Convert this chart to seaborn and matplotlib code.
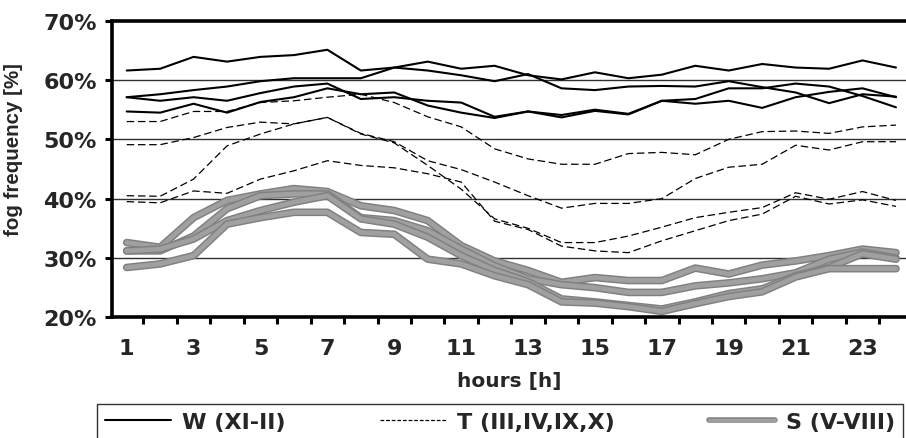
import pandas as pd
import matplotlib
matplotlib.use('Agg')
import matplotlib.pyplot as plt
import matplotlib.patheffects as pe
from matplotlib.lines import Line2D
import seaborn as sns

hours = list(range(1, 25))

# W (XI-II) - solid
w1 = [61.6, 61.9, 63.9, 63.1, 63.9, 64.2, 65.1, 61.6, 62.1, 63.1, 61.9, 62.4,
      60.8, 60.1, 61.3, 60.3, 60.9, 62.4, 61.6, 62.7, 62.1, 61.9, 63.3, 62.1]
w2 = [57.1, 57.6, 58.3, 58.9, 59.8, 60.3, 60.3, 60.3, 62.1, 61.6, 60.8, 59.8,
      61.0, 58.6, 58.3, 58.9, 59.0, 58.9, 59.8, 58.8, 57.9, 56.1, 57.6, 57.2]
w3 = [57.1, 56.5, 57.1, 56.5, 57.8, 58.9, 59.4, 56.8, 57.1, 56.5, 56.2, 53.8,
      54.7, 54.1, 55.0, 54.3, 56.5, 56.8, 58.6, 58.6, 59.4, 58.9, 57.3, 55.4]
w4 = [54.7, 54.5, 56.0, 54.5, 56.3, 57.1, 58.6, 57.6, 57.9, 55.7, 54.5, 53.6,
      54.7, 53.7, 54.8, 54.2, 56.5, 56.0, 56.5, 55.3, 57.1, 58.0, 58.6, 57.1]

# T (III,IV,IX,X) - dashed
t1 = [53.0, 53.0, 54.7, 54.7, 56.2, 56.5, 57.1, 57.6, 56.2, 53.8, 52.1, 48.4,
      46.7, 45.8, 45.8, 47.6, 47.8, 47.4, 50.0, 51.3, 51.4, 51.0, 52.1, 52.4]
t2 = [49.1, 49.1, 50.3, 52.0, 52.9, 52.6, 53.7, 51.0, 49.6, 46.4, 44.9, 42.8,
      40.5, 38.4, 39.2, 39.2, 40.0, 43.4, 45.3, 45.8, 49.0, 48.2, 49.6, 49.6]
t3 = [40.5, 40.4, 43.3, 48.9, 50.9, 52.6, 53.7, 50.9, 49.4, 45.6, 41.6, 36.6,
      35.0, 32.6, 32.6, 33.7, 35.2, 36.8, 37.7, 38.5, 41.0, 39.9, 41.2, 39.7]
t4 = [39.5, 39.3, 41.3, 40.9, 43.3, 44.7, 46.4, 45.6, 45.2, 44.2, 42.8, 36.2,
      34.8, 32.0, 31.2, 30.9, 32.9, 34.6, 36.3, 37.4, 40.4, 39.1, 39.8, 38.7]

# S (V-VIII) - thick grey
s1 = [32.6, 31.8, 36.8, 39.7, 40.8, 41.7, 41.2, 38.8, 38.0, 36.3, 32.1, 29.5,
      27.9, 25.9, 26.7, 26.2, 26.2, 28.3, 27.3, 28.8, 29.5, 30.4, 31.5, 30.9]
s2 = [31.2, 31.2, 33.7, 38.3, 40.5, 40.8, 40.8, 36.8, 36.3, 34.6, 31.5, 28.7,
      26.5, 25.5, 25.0, 24.2, 24.2, 25.3, 25.8, 26.5, 27.5, 29.8, 31.0, 30.0]
s3 = [31.2, 31.5, 33.2, 36.3, 38.0, 39.4, 40.5, 36.6, 35.7, 33.5, 30.4, 27.9,
      26.0, 23.1, 22.6, 22.0, 21.4, 22.6, 24.0, 24.8, 27.0, 28.4, 30.7, 29.8]
s4 = [28.4, 29.0, 30.4, 35.7, 36.8, 37.7, 37.7, 34.3, 34.0, 29.8, 29.0, 27.0,
      25.5, 22.6, 22.4, 21.8, 21.0, 22.3, 23.5, 24.3, 26.8, 28.2, 28.2, 28.2]

groups = {
    'W (XI-II)': [w1, w2, w3, w4],
    'T (III,IV,IX,X)': [t1, t2, t3, t4],
    'S (V-VIII)': [s1, s2, s3, s4],
}
y_ticks = [20, 30, 40, 50, 60, 70]
y_labels = ['20%', '30%', '40%', '50%', '60%', '70%']
x_labels = [str(h) for h in range(1, 24, 2)]

rows = []
for season, series in groups.items():
    for i, vals in enumerate(series):
        for h, v in zip(hours, vals):
            rows.append({'hour': h, 'freq': v, 'season': season, 'line': f'{season}_{i}'})
df = pd.DataFrame(rows)

sns.set_theme(style='white')
plt.rcParams['font.family'] = ['DejaVu Sans']
plt.rcParams['font.weight'] = 'bold'

fig = plt.figure(figsize=(9.06, 4.39), dpi=100)
ax = fig.add_axes([0.1236, 0.2749, 0.8764, 0.6757])

for y in [30, 40, 50, 60]:
    ax.axhline(y, color='#303030', lw=1.0, zorder=1)

s_effect = [pe.Stroke(linewidth=5.5, foreground='#808080'), pe.Normal()]
for key, d in df[df.season == 'S (V-VIII)'].groupby('line'):
    sns.lineplot(data=d, x='hour', y='freq', ax=ax, color='#a0a0a0', lw=3.4,
                 legend=False, zorder=2, path_effects=s_effect)
for key, d in df[df.season == 'T (III,IV,IX,X)'].groupby('line'):
    sns.lineplot(data=d, x='hour', y='freq', ax=ax, color='black', lw=0.9,
                 linestyle=(0, (6, 3)), legend=False, zorder=3)
for key, d in df[df.season == 'W (XI-II)'].groupby('line'):
    sns.lineplot(data=d, x='hour', y='freq', ax=ax, color='black', lw=1.5,
                 legend=False, zorder=4)

ax.set_xlim(0.56, 24.3)
ax.set_ylim(20, 70)
ax.set_yticks(y_ticks)
ax.set_yticklabels(y_labels, fontsize=16, fontweight='bold')
ax.set_xticks(range(1, 24, 2))
ax.set_xticklabels(x_labels, fontsize=16, fontweight='bold')
ax.set_xticks([h + 0.5 for h in range(1, 24)], minor=True)
ax.tick_params(axis='x', which='major', length=0, pad=15)
ax.tick_params(axis='x', which='minor', length=5, width=2.2, color='black', direction='out', bottom=True)
ax.tick_params(axis='y', length=5, width=2.2, color='black', direction='out', left=True, pad=6)

for side in ['left', 'bottom', 'top']:
    ax.spines[side].set_color('black')
    ax.spines[side].set_linewidth(2.6)
ax.spines['right'].set_visible(False)

ax.set_xlabel('hours [h]', fontsize=14.5, fontweight='bold', labelpad=9)
ax.set_ylabel('fog frequency [%]', fontsize=14.8, fontweight='bold',
              family=['Liberation Sans', 'DejaVu Sans'])
ax.yaxis.set_label_coords(-0.112, 0.57)

handles = [
    Line2D([], [], color='black', lw=1.5),
    Line2D([], [], color='black', lw=0.9, linestyle=(0, (3, 1.5))),
    Line2D([], [], color='#a0a0a0', lw=2.5,
           path_effects=[pe.Stroke(linewidth=4, foreground='#808080'), pe.Normal()]),
]
leg = fig.legend(handles, list(groups.keys()), loc='upper left',
                 bbox_to_anchor=(0.107, 0.0774, 0.89, 0.0), mode='expand', ncol=3,
                 frameon=True, fancybox=False, edgecolor='black', handlelength=3.0,
                 handletextpad=0.5, borderaxespad=0, borderpad=0.35,
                 prop={'weight': 'bold', 'size': 16})
leg.get_frame().set_linewidth(1.0)

fig.savefig('out.png', dpi=100)
